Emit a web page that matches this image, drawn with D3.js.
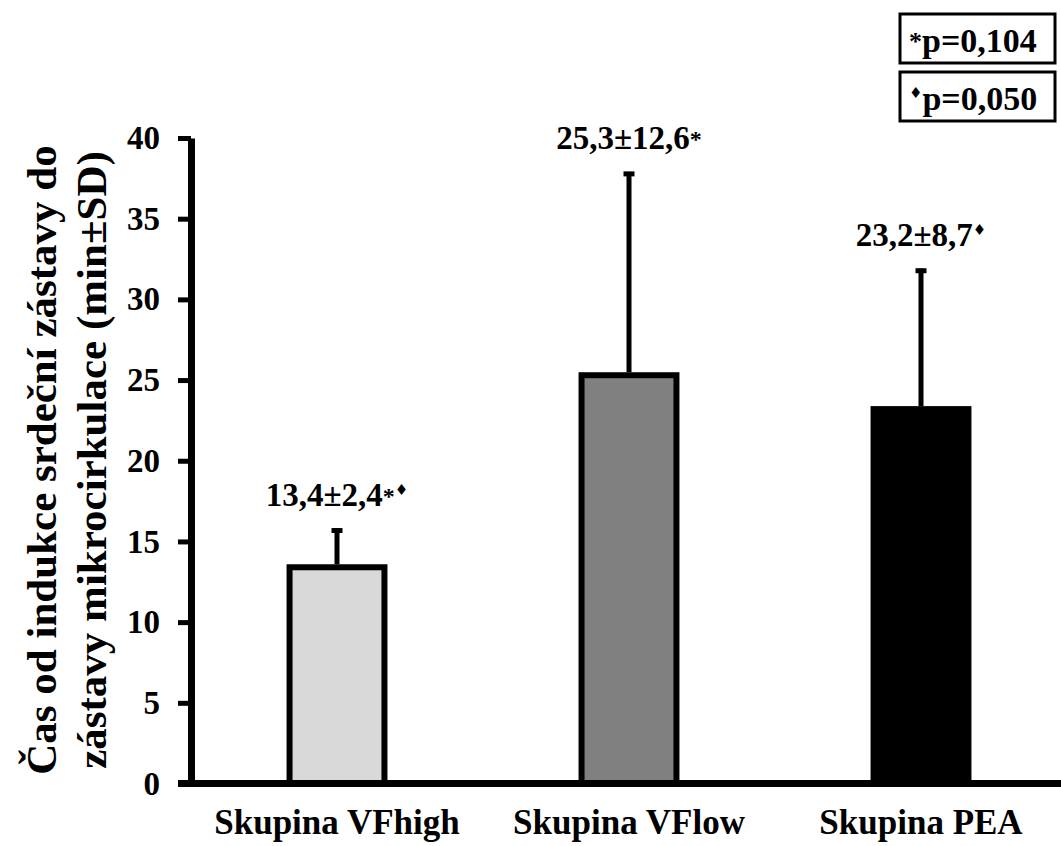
<!DOCTYPE html>
<html>
<head>
<meta charset="utf-8">
<script src="https://cdn.jsdelivr.net/npm/d3@7"></script>
<style>
  body { margin: 0; background: #fff; }
</style>
</head>
<body>
<div class="canvas"></div>
<script>
// Data
const categories = ['Skupina VFhigh', 'Skupina VFlow', 'Skupina PEA'];
const means = [13.4, 25.3, 23.2];
const sds = [2.4, 12.6, 8.7];
const valueLabels = ['13,4±2,4', '25,3±12,6', '23,2±8,7'];
const marks = [['*', '♦'], ['*'], ['♦']];
const barFills = ['#d9d9d9', '#808080', '#000000'];
const yTicks = [0, 5, 10, 15, 20, 25, 30, 35, 40];
const legendMarks = ['*', '♦'];
const legendTexts = ['p=0,104', 'p=0,050'];
const titleLines = ['Čas od indukce srdeční zástavy do', 'zástavy mikrocirkulace (min±SD)'];

const serif = '"Liberation Serif"';
const dimensions = { width: 1061, height: 846 };
const plot = { left: 191, right: 1067, top: 138, bottom: 783.5 };

const svg = d3.select('.canvas')
  .append('svg')
  .attr('width', dimensions.width)
  .attr('height', dimensions.height);

const x = d3.scaleBand()
  .domain(categories)
  .range([plot.left, plot.right])
  .paddingInner(0.675)
  .paddingOuter(0.3375);

const y = d3.scaleLinear()
  .domain([0, 40])
  .range([plot.bottom, plot.top]);

// small helper so every label gets the same face
const label = (sel, size) => sel
  .style('font-family', serif)
  .style('font-weight', 'bold')
  .style('font-size', size + 'px')
  .attr('fill', '#000');

// text-anchor middle/end is done by hand: measure, then shift a start-anchored text
const anchor = (sel, pos, k) => sel.each(function() {
  const w = this.getComputedTextLength();
  d3.select(this).attr('text-anchor', 'start').attr('x', pos - w * k);
});

// bars
svg.append('g').selectAll('rect')
  .data(categories)
  .enter().append('rect')
  .attr('x', d => x(d))
  .attr('y', (d, i) => y(means[i]))
  .attr('width', x.bandwidth())
  .attr('height', (d, i) => y(0) - y(means[i]))
  .attr('fill', (d, i) => barFills[i])
  .attr('stroke', '#000')
  .attr('stroke-width', 6);

// error bars (upper half only)
const err = svg.append('g').attr('stroke', '#000').attr('stroke-width', 5);
categories.forEach((c, i) => {
  const cx = x(c) + x.bandwidth() / 2;
  const top = y(means[i] + sds[i]);
  err.append('line')
    .attr('x1', cx).attr('x2', cx)
    .attr('y1', y(means[i]) - 3).attr('y2', top);
  err.append('line')
    .attr('x1', cx - 5.5).attr('x2', cx + 5.5)
    .attr('y1', top + 2).attr('y2', top + 2);
});

// value labels
categories.forEach((c, i) => {
  const cx = x(c) + x.bandwidth() / 2;
  const t = svg.append('text')
    .attr('y', y(means[i] + sds[i]) - 23)
    .call(label, 33);
  t.append('tspan').text(valueLabels[i]);
  marks[i].forEach((m, j) => {
    if (m === '*') {
      t.append('tspan').style('font-size', '24px').attr('dy', -2).text(m);
    } else {
      t.append('tspan').style('font-size', '15px').style('font-family', '"DejaVu Sans"')
        .attr('dy', j === 0 ? -11 : -9).text(m);
    }
  });
  t.call(anchor, cx, 0.5);
});

// y axis
const yAxis = svg.append('g')
  .attr('transform', `translate(${plot.left},0)`)
  .call(d3.axisLeft(y).tickValues(yTicks).tickSize(13).tickSizeOuter(0).tickPadding(18));
yAxis.attr('font-family', null).attr('font-size', null).attr('text-anchor', null);
yAxis.select('.domain').attr('stroke-width', 7);
yAxis.selectAll('.tick line').attr('stroke-width', 5);
yAxis.selectAll('.tick text').call(label, 33).call(anchor, -31, 1);

// x axis baseline
svg.append('line')
  .attr('x1', plot.left - 13).attr('x2', dimensions.width)
  .attr('y1', y(0)).attr('y2', y(0))
  .attr('stroke', '#000')
  .attr('stroke-width', 7);

// x labels
svg.append('g').selectAll('text')
  .data(categories)
  .enter().append('text')
  .attr('y', 834)
  .call(label, 35)
  .text(d => d)
  .each(function(d) { d3.select(this).call(anchor, x(d) + x.bandwidth() / 2, 0.5); });

// y title
svg.append('g')
  .attr('transform', 'translate(0,460) rotate(-90)')
  .selectAll('text')
  .data(titleLines)
  .enter().append('text')
  .attr('y', (d, i) => 56 + i * 50)
  .call(label, 43)
  .text(d => d)
  .call(anchor, 0, 0.5);

// legend boxes
const legend = svg.append('g');
legendTexts.forEach((txt, i) => {
  const top = 14 + i * 58;
  legend.append('rect')
    .attr('x', 900).attr('y', top)
    .attr('width', 155).attr('height', 49)
    .attr('fill', '#fff')
    .attr('stroke', '#000')
    .attr('stroke-width', 3);
  const t = legend.append('text')
    .attr('x', 909).attr('y', top + 38)
    .call(label, 34);
  if (legendMarks[i] === '*') {
    t.append('tspan').style('font-size', '26px').attr('dy', -2).text(legendMarks[i]);
    t.append('tspan').attr('dy', 2).text(txt);
  } else {
    t.append('tspan').style('font-size', '15px').style('font-family', '"DejaVu Sans"').attr('dy', -12).text(legendMarks[i]);
    t.append('tspan').attr('dy', 12).text(txt);
  }
});
</script>
</body>
</html>
